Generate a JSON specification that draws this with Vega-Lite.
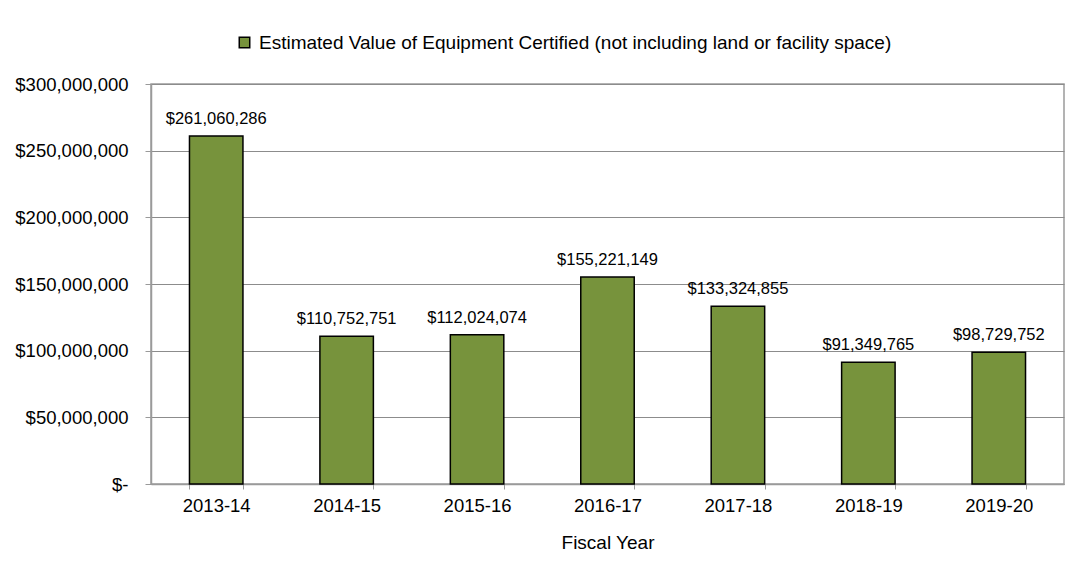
{
  "$schema": "https://vega.github.io/schema/vega-lite/v6.json",
  "width": 913,
  "height": 400,
  "autosize": {"type": "none"},
  "padding": {"left": 151, "top": 84, "right": 23, "bottom": 96},
  "background": "white",
  "config": {
    "font": "Liberation Sans",
    "view": {"stroke": "#9a9a9a", "strokeWidth": 1.5},
    "axis": {"labelFont": "Liberation Sans", "titleFont": "Liberation Sans", "labelColor": "#000", "titleColor": "#000", "domainColor": "#9a9a9a", "tickColor": "#9a9a9a"}
  },
  "data": {
    "values": [
      {"year": "2013-14", "value": 261060286, "series": "Estimated Value of Equipment Certified (not including land or facility space)"},
      {"year": "2014-15", "value": 110752751, "series": "Estimated Value of Equipment Certified (not including land or facility space)"},
      {"year": "2015-16", "value": 112024074, "series": "Estimated Value of Equipment Certified (not including land or facility space)"},
      {"year": "2016-17", "value": 155221149, "series": "Estimated Value of Equipment Certified (not including land or facility space)"},
      {"year": "2017-18", "value": 133324855, "series": "Estimated Value of Equipment Certified (not including land or facility space)"},
      {"year": "2018-19", "value": 91349765, "series": "Estimated Value of Equipment Certified (not including land or facility space)"},
      {"year": "2019-20", "value": 98729752, "series": "Estimated Value of Equipment Certified (not including land or facility space)"}
    ]
  },
  "encoding": {
    "x": {
      "field": "year", "type": "nominal", "sort": null,
      "scale": {"paddingInner": 0.59, "paddingOuter": 0.295},
      "axis": {"title": "Fiscal Year", "labelAngle": 0, "labelFontSize": 18.5, "titleFontSize": 19, "titleFontWeight": "normal", "tickBand": "extent", "tickSize": 5, "labelPadding": 7, "titlePadding": 19, "domainWidth": 1.5, "grid": false}
    },
    "y": {
      "field": "value", "type": "quantitative",
      "scale": {"domain": [0, 300000000], "nice": false},
      "axis": {"title": null, "values": [0, 50000000, 100000000, 150000000, 200000000, 250000000, 300000000], "labelExpr": "datum.value == 0 ? '$-' : '$' + format(datum.value, ',')", "labelFontSize": 18.5, "tickSize": 6, "labelPadding": 17, "grid": true, "gridColor": "#8c8c8c", "gridWidth": 1, "domainWidth": 1.5}
    }
  },
  "layer": [
    {
      "mark": {"type": "bar", "stroke": "#000", "strokeWidth": 1.5},
      "encoding": {
        "color": {
          "field": "series", "type": "nominal",
          "scale": {"range": ["#77933C"]},
          "legend": {"title": null, "orient": "none", "legendX": 84, "legendY": -51, "symbolType": "square", "symbolSize": 110, "symbolStrokeColor": "#000", "symbolStrokeWidth": 1.5, "symbolOpacity": 1, "labelFontSize": 19, "labelColor": "#000", "labelOffset": 5, "labelLimit": 1000}
        }
      }
    },
    {
      "mark": {"type": "text", "baseline": "bottom", "dy": -9, "fontSize": 16.5, "color": "#000"},
      "encoding": {
        "text": {"field": "value", "type": "quantitative", "format": "$,.0f"}
      }
    }
  ]
}
